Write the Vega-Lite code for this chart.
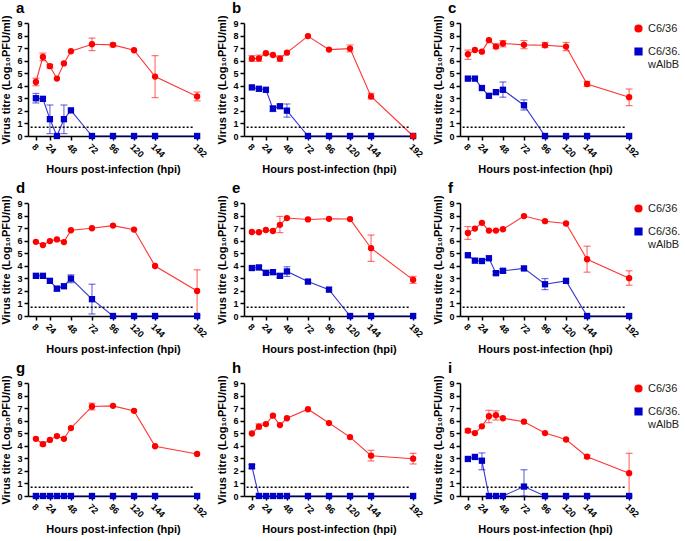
{
"$schema": "https://vega.github.io/schema/vega-lite/v6.json",
"padding": {"left": 0, "top": 0, "right": 0, "bottom": 0},
"config": {
 "font": "Liberation Sans",
 "view": {"stroke": null},
 "axis": {"grid": false, "domainColor": "#000", "domainWidth": 1.5, "tickColor": "#000", "tickWidth": 1.5, "tickSize": 4, "labelColor": "#000", "labelFontSize": 9, "labelFontWeight": "bold", "labelFlush": false, "labelOverlap": false, "labelBound": false, "titleFontSize": 11, "titleFontWeight": "bold", "titleColor": "#000"},
 "axisX": {"titlePadding": 5, "tickCount": 8},
 "axisY": {"titlePadding": 5, "labelPadding": 2, "tickCount": 10},
 "legend": {"labelFontSize": 11, "symbolSize": 45, "rowPadding": 10, "offset": -7, "padding": 0, "labelColor": "#222", "symbolOpacity": 1},
 "title": {"anchor": "start", "frame": "group", "fontSize": 15, "fontWeight": "bold", "color": "#000", "dx": -12, "offset": -1}
},
"data": {"values": [
{"p":"a","r":1,"s":"C6/36.wAlbB","t":8,"v":3.01,"lo":2.63,"hi":3.39},
{"p":"a","r":1,"s":"C6/36.wAlbB","t":16,"v":2.96},
{"p":"a","r":1,"s":"C6/36.wAlbB","t":24,"v":1.34,"lo":0.19,"hi":2.47},
{"p":"a","r":1,"s":"C6/36.wAlbB","t":32,"v":0},
{"p":"a","r":1,"s":"C6/36.wAlbB","t":40,"v":1.34,"lo":0.19,"hi":2.47},
{"p":"a","r":1,"s":"C6/36.wAlbB","t":48,"v":2.04},
{"p":"a","r":1,"s":"C6/36.wAlbB","t":72,"v":0},
{"p":"a","r":1,"s":"C6/36.wAlbB","t":96,"v":0},
{"p":"a","r":1,"s":"C6/36.wAlbB","t":120,"v":0},
{"p":"a","r":1,"s":"C6/36.wAlbB","t":144,"v":0},
{"p":"a","r":1,"s":"C6/36.wAlbB","t":192,"v":0},
{"p":"a","r":1,"s":"C6/36","t":8,"v":4.3,"lo":4.0,"hi":4.6},
{"p":"a","r":1,"s":"C6/36","t":16,"v":6.29,"lo":6.0,"hi":6.6},
{"p":"a","r":1,"s":"C6/36","t":24,"v":5.56,"lo":5.4,"hi":5.7},
{"p":"a","r":1,"s":"C6/36","t":32,"v":4.57},
{"p":"a","r":1,"s":"C6/36","t":40,"v":5.78},
{"p":"a","r":1,"s":"C6/36","t":48,"v":6.75},
{"p":"a","r":1,"s":"C6/36","t":72,"v":7.31,"lo":6.8,"hi":7.8},
{"p":"a","r":1,"s":"C6/36","t":96,"v":7.26,"lo":7.1,"hi":7.4},
{"p":"a","r":1,"s":"C6/36","t":120,"v":6.83},
{"p":"a","r":1,"s":"C6/36","t":144,"v":4.73,"lo":3.06,"hi":6.4},
{"p":"a","r":1,"s":"C6/36","t":192,"v":3.15,"lo":2.8,"hi":3.5},
{"p":"b","r":1,"s":"C6/36.wAlbB","t":8,"v":3.87},
{"p":"b","r":1,"s":"C6/36.wAlbB","t":16,"v":3.76},
{"p":"b","r":1,"s":"C6/36.wAlbB","t":24,"v":3.68},
{"p":"b","r":1,"s":"C6/36.wAlbB","t":32,"v":2.18,"lo":1.95,"hi":2.4},
{"p":"b","r":1,"s":"C6/36.wAlbB","t":40,"v":2.37},
{"p":"b","r":1,"s":"C6/36.wAlbB","t":48,"v":2.02,"lo":1.5,"hi":2.55},
{"p":"b","r":1,"s":"C6/36.wAlbB","t":72,"v":0},
{"p":"b","r":1,"s":"C6/36.wAlbB","t":96,"v":0},
{"p":"b","r":1,"s":"C6/36.wAlbB","t":120,"v":0},
{"p":"b","r":1,"s":"C6/36.wAlbB","t":144,"v":0},
{"p":"b","r":1,"s":"C6/36.wAlbB","t":192,"v":0},
{"p":"b","r":1,"s":"C6/36","t":8,"v":6.16,"lo":5.95,"hi":6.4},
{"p":"b","r":1,"s":"C6/36","t":16,"v":6.18,"lo":5.95,"hi":6.45},
{"p":"b","r":1,"s":"C6/36","t":24,"v":6.59},
{"p":"b","r":1,"s":"C6/36","t":32,"v":6.45},
{"p":"b","r":1,"s":"C6/36","t":40,"v":6.16,"lo":5.95,"hi":6.4},
{"p":"b","r":1,"s":"C6/36","t":48,"v":6.64},
{"p":"b","r":1,"s":"C6/36","t":72,"v":7.96},
{"p":"b","r":1,"s":"C6/36","t":96,"v":6.88},
{"p":"b","r":1,"s":"C6/36","t":120,"v":6.96,"lo":6.7,"hi":7.25},
{"p":"b","r":1,"s":"C6/36","t":144,"v":3.15,"lo":2.95,"hi":3.4},
{"p":"b","r":1,"s":"C6/36","t":192,"v":0},
{"p":"c","r":1,"s":"C6/36.wAlbB","t":8,"v":4.57},
{"p":"c","r":1,"s":"C6/36.wAlbB","t":16,"v":4.57},
{"p":"c","r":1,"s":"C6/36.wAlbB","t":24,"v":3.82},
{"p":"c","r":1,"s":"C6/36.wAlbB","t":32,"v":3.2},
{"p":"c","r":1,"s":"C6/36.wAlbB","t":40,"v":3.49},
{"p":"c","r":1,"s":"C6/36.wAlbB","t":48,"v":3.68,"lo":3.09,"hi":4.3},
{"p":"c","r":1,"s":"C6/36.wAlbB","t":72,"v":2.45,"lo":2.07,"hi":2.88},
{"p":"c","r":1,"s":"C6/36.wAlbB","t":96,"v":0},
{"p":"c","r":1,"s":"C6/36.wAlbB","t":120,"v":0},
{"p":"c","r":1,"s":"C6/36.wAlbB","t":144,"v":0},
{"p":"c","r":1,"s":"C6/36.wAlbB","t":192,"v":0},
{"p":"c","r":1,"s":"C6/36","t":8,"v":6.51,"lo":6.1,"hi":6.85},
{"p":"c","r":1,"s":"C6/36","t":16,"v":6.85},
{"p":"c","r":1,"s":"C6/36","t":24,"v":6.72},
{"p":"c","r":1,"s":"C6/36","t":32,"v":7.63},
{"p":"c","r":1,"s":"C6/36","t":40,"v":7.12,"lo":6.95,"hi":7.35},
{"p":"c","r":1,"s":"C6/36","t":48,"v":7.37,"lo":7.1,"hi":7.6},
{"p":"c","r":1,"s":"C6/36","t":72,"v":7.26,"lo":6.95,"hi":7.6},
{"p":"c","r":1,"s":"C6/36","t":96,"v":7.23,"lo":7.05,"hi":7.45},
{"p":"c","r":1,"s":"C6/36","t":120,"v":7.12,"lo":6.8,"hi":7.45},
{"p":"c","r":1,"s":"C6/36","t":144,"v":4.14,"lo":3.95,"hi":4.35},
{"p":"c","r":1,"s":"C6/36","t":192,"v":3.09,"lo":2.42,"hi":3.74},
{"p":"d","r":2,"s":"C6/36.wAlbB","t":8,"v":3.2},
{"p":"d","r":2,"s":"C6/36.wAlbB","t":16,"v":3.2},
{"p":"d","r":2,"s":"C6/36.wAlbB","t":24,"v":2.8},
{"p":"d","r":2,"s":"C6/36.wAlbB","t":32,"v":2.18,"lo":2.0,"hi":2.35},
{"p":"d","r":2,"s":"C6/36.wAlbB","t":40,"v":2.37},
{"p":"d","r":2,"s":"C6/36.wAlbB","t":48,"v":2.98,"lo":2.65,"hi":3.28},
{"p":"d","r":2,"s":"C6/36.wAlbB","t":72,"v":1.34,"lo":0.16,"hi":2.53},
{"p":"d","r":2,"s":"C6/36.wAlbB","t":96,"v":0},
{"p":"d","r":2,"s":"C6/36.wAlbB","t":120,"v":0},
{"p":"d","r":2,"s":"C6/36.wAlbB","t":144,"v":0},
{"p":"d","r":2,"s":"C6/36.wAlbB","t":192,"v":0},
{"p":"d","r":2,"s":"C6/36","t":8,"v":5.91},
{"p":"d","r":2,"s":"C6/36","t":16,"v":5.65},
{"p":"d","r":2,"s":"C6/36","t":24,"v":5.97},
{"p":"d","r":2,"s":"C6/36","t":32,"v":6.1},
{"p":"d","r":2,"s":"C6/36","t":40,"v":5.89},
{"p":"d","r":2,"s":"C6/36","t":48,"v":6.83},
{"p":"d","r":2,"s":"C6/36","t":72,"v":6.99},
{"p":"d","r":2,"s":"C6/36","t":96,"v":7.2},
{"p":"d","r":2,"s":"C6/36","t":120,"v":6.88},
{"p":"d","r":2,"s":"C6/36","t":144,"v":3.98},
{"p":"d","r":2,"s":"C6/36","t":192,"v":1.99,"lo":0.05,"hi":3.68},
{"p":"e","r":2,"s":"C6/36.wAlbB","t":8,"v":3.82},
{"p":"e","r":2,"s":"C6/36.wAlbB","t":16,"v":3.87,"lo":3.7,"hi":4.0},
{"p":"e","r":2,"s":"C6/36.wAlbB","t":24,"v":3.44,"lo":3.3,"hi":3.6},
{"p":"e","r":2,"s":"C6/36.wAlbB","t":32,"v":3.49},
{"p":"e","r":2,"s":"C6/36.wAlbB","t":40,"v":3.2,"lo":3.05,"hi":3.35},
{"p":"e","r":2,"s":"C6/36.wAlbB","t":48,"v":3.55,"lo":3.15,"hi":3.92},
{"p":"e","r":2,"s":"C6/36.wAlbB","t":72,"v":2.74},
{"p":"e","r":2,"s":"C6/36.wAlbB","t":96,"v":2.1},
{"p":"e","r":2,"s":"C6/36.wAlbB","t":120,"v":0},
{"p":"e","r":2,"s":"C6/36.wAlbB","t":144,"v":0},
{"p":"e","r":2,"s":"C6/36.wAlbB","t":192,"v":0},
{"p":"e","r":2,"s":"C6/36","t":8,"v":6.69},
{"p":"e","r":2,"s":"C6/36","t":16,"v":6.67},
{"p":"e","r":2,"s":"C6/36","t":24,"v":6.85},
{"p":"e","r":2,"s":"C6/36","t":32,"v":6.77},
{"p":"e","r":2,"s":"C6/36","t":40,"v":7.26,"lo":6.64,"hi":7.93},
{"p":"e","r":2,"s":"C6/36","t":48,"v":7.8},
{"p":"e","r":2,"s":"C6/36","t":72,"v":7.69},
{"p":"e","r":2,"s":"C6/36","t":96,"v":7.74},
{"p":"e","r":2,"s":"C6/36","t":120,"v":7.72},
{"p":"e","r":2,"s":"C6/36","t":144,"v":5.4,"lo":4.35,"hi":6.45},
{"p":"e","r":2,"s":"C6/36","t":192,"v":2.88,"lo":2.6,"hi":3.15},
{"p":"f","r":2,"s":"C6/36.wAlbB","t":8,"v":4.84},
{"p":"f","r":2,"s":"C6/36.wAlbB","t":16,"v":4.41},
{"p":"f","r":2,"s":"C6/36.wAlbB","t":24,"v":4.38},
{"p":"f","r":2,"s":"C6/36.wAlbB","t":32,"v":4.6},
{"p":"f","r":2,"s":"C6/36.wAlbB","t":40,"v":3.41,"lo":3.3,"hi":3.55},
{"p":"f","r":2,"s":"C6/36.wAlbB","t":48,"v":3.6,"lo":3.45,"hi":3.75},
{"p":"f","r":2,"s":"C6/36.wAlbB","t":72,"v":3.79},
{"p":"f","r":2,"s":"C6/36.wAlbB","t":96,"v":2.53,"lo":2.1,"hi":2.98},
{"p":"f","r":2,"s":"C6/36.wAlbB","t":120,"v":2.8},
{"p":"f","r":2,"s":"C6/36.wAlbB","t":144,"v":0},
{"p":"f","r":2,"s":"C6/36.wAlbB","t":192,"v":0},
{"p":"f","r":2,"s":"C6/36","t":8,"v":6.61,"lo":6.1,"hi":7.12},
{"p":"f","r":2,"s":"C6/36","t":16,"v":6.96},
{"p":"f","r":2,"s":"C6/36","t":24,"v":7.42},
{"p":"f","r":2,"s":"C6/36","t":32,"v":6.8},
{"p":"f","r":2,"s":"C6/36","t":40,"v":6.8},
{"p":"f","r":2,"s":"C6/36","t":48,"v":6.91},
{"p":"f","r":2,"s":"C6/36","t":72,"v":7.96},
{"p":"f","r":2,"s":"C6/36","t":96,"v":7.55},
{"p":"f","r":2,"s":"C6/36","t":120,"v":7.37},
{"p":"f","r":2,"s":"C6/36","t":144,"v":4.52,"lo":3.49,"hi":5.56},
{"p":"f","r":2,"s":"C6/36","t":192,"v":3.01,"lo":2.45,"hi":3.6},
{"p":"g","r":3,"s":"C6/36.wAlbB","t":8,"v":0},
{"p":"g","r":3,"s":"C6/36.wAlbB","t":16,"v":0},
{"p":"g","r":3,"s":"C6/36.wAlbB","t":24,"v":0},
{"p":"g","r":3,"s":"C6/36.wAlbB","t":32,"v":0},
{"p":"g","r":3,"s":"C6/36.wAlbB","t":40,"v":0},
{"p":"g","r":3,"s":"C6/36.wAlbB","t":48,"v":0},
{"p":"g","r":3,"s":"C6/36.wAlbB","t":72,"v":0},
{"p":"g","r":3,"s":"C6/36.wAlbB","t":96,"v":0},
{"p":"g","r":3,"s":"C6/36.wAlbB","t":120,"v":0},
{"p":"g","r":3,"s":"C6/36.wAlbB","t":144,"v":0},
{"p":"g","r":3,"s":"C6/36.wAlbB","t":192,"v":0},
{"p":"g","r":3,"s":"C6/36","t":8,"v":4.55},
{"p":"g","r":3,"s":"C6/36","t":16,"v":4.13,"lo":4.0,"hi":4.3},
{"p":"g","r":3,"s":"C6/36","t":24,"v":4.47},
{"p":"g","r":3,"s":"C6/36","t":32,"v":4.77},
{"p":"g","r":3,"s":"C6/36","t":40,"v":4.55},
{"p":"g","r":3,"s":"C6/36","t":48,"v":5.41},
{"p":"g","r":3,"s":"C6/36","t":72,"v":7.13,"lo":6.86,"hi":7.39},
{"p":"g","r":3,"s":"C6/36","t":96,"v":7.18},
{"p":"g","r":3,"s":"C6/36","t":120,"v":6.78},
{"p":"g","r":3,"s":"C6/36","t":144,"v":3.96},
{"p":"g","r":3,"s":"C6/36","t":192,"v":3.35},
{"p":"h","r":3,"s":"C6/36.wAlbB","t":8,"v":2.36,"lo":2.2,"hi":2.5},
{"p":"h","r":3,"s":"C6/36.wAlbB","t":16,"v":0},
{"p":"h","r":3,"s":"C6/36.wAlbB","t":24,"v":0},
{"p":"h","r":3,"s":"C6/36.wAlbB","t":32,"v":0},
{"p":"h","r":3,"s":"C6/36.wAlbB","t":40,"v":0},
{"p":"h","r":3,"s":"C6/36.wAlbB","t":48,"v":0},
{"p":"h","r":3,"s":"C6/36.wAlbB","t":72,"v":0},
{"p":"h","r":3,"s":"C6/36.wAlbB","t":96,"v":0},
{"p":"h","r":3,"s":"C6/36.wAlbB","t":120,"v":0},
{"p":"h","r":3,"s":"C6/36.wAlbB","t":144,"v":0},
{"p":"h","r":3,"s":"C6/36.wAlbB","t":192,"v":0},
{"p":"h","r":3,"s":"C6/36","t":8,"v":4.98},
{"p":"h","r":3,"s":"C6/36","t":16,"v":5.52,"lo":5.35,"hi":5.75},
{"p":"h","r":3,"s":"C6/36","t":24,"v":5.73},
{"p":"h","r":3,"s":"C6/36","t":32,"v":6.4},
{"p":"h","r":3,"s":"C6/36","t":40,"v":5.65},
{"p":"h","r":3,"s":"C6/36","t":48,"v":6.19},
{"p":"h","r":3,"s":"C6/36","t":72,"v":6.91},
{"p":"h","r":3,"s":"C6/36","t":96,"v":5.81},
{"p":"h","r":3,"s":"C6/36","t":120,"v":4.69},
{"p":"h","r":3,"s":"C6/36","t":144,"v":3.21,"lo":2.79,"hi":3.64},
{"p":"h","r":3,"s":"C6/36","t":192,"v":2.97,"lo":2.55,"hi":3.4},
{"p":"i","r":3,"s":"C6/36.wAlbB","t":8,"v":2.95},
{"p":"i","r":3,"s":"C6/36.wAlbB","t":16,"v":3.11},
{"p":"i","r":3,"s":"C6/36.wAlbB","t":24,"v":2.81,"lo":2.09,"hi":3.43},
{"p":"i","r":3,"s":"C6/36.wAlbB","t":32,"v":0},
{"p":"i","r":3,"s":"C6/36.wAlbB","t":40,"v":0},
{"p":"i","r":3,"s":"C6/36.wAlbB","t":48,"v":0},
{"p":"i","r":3,"s":"C6/36.wAlbB","t":72,"v":0.75,"lo":0,"hi":2.09},
{"p":"i","r":3,"s":"C6/36.wAlbB","t":96,"v":0},
{"p":"i","r":3,"s":"C6/36.wAlbB","t":120,"v":0},
{"p":"i","r":3,"s":"C6/36.wAlbB","t":144,"v":0},
{"p":"i","r":3,"s":"C6/36.wAlbB","t":192,"v":0},
{"p":"i","r":3,"s":"C6/36","t":8,"v":5.2,"lo":5.05,"hi":5.35},
{"p":"i","r":3,"s":"C6/36","t":16,"v":5.01},
{"p":"i","r":3,"s":"C6/36","t":24,"v":5.55},
{"p":"i","r":3,"s":"C6/36","t":32,"v":6.35,"lo":5.84,"hi":6.83},
{"p":"i","r":3,"s":"C6/36","t":40,"v":6.43,"lo":6.05,"hi":6.78},
{"p":"i","r":3,"s":"C6/36","t":48,"v":6.19},
{"p":"i","r":3,"s":"C6/36","t":72,"v":5.92},
{"p":"i","r":3,"s":"C6/36","t":96,"v":5.01},
{"p":"i","r":3,"s":"C6/36","t":120,"v":4.5},
{"p":"i","r":3,"s":"C6/36","t":144,"v":3.13,"lo":3.0,"hi":3.25},
{"p":"i","r":3,"s":"C6/36","t":192,"v":1.82,"lo":0,"hi":3.4}
]},
"spacing": 5,
"resolve": {"legend": {"color": "independent", "shape": "independent"}},
"vconcat": [
 {"spacing": 8, "hconcat": [
  {"title": "a", "transform": [{"filter": "datum.p == 'a'"}], "width": 170, "height": 113, "layer": [
   {"mark": {"type": "line", "strokeWidth": 1.1, "opacity": 0.8}, "encoding": {"x": {"field": "t", "type": "quantitative", "title": "Hours post-infection (hpi)", "scale": {"domain": [-1, 193], "nice": false}, "axis": {"values": [8, 24, 48, 72, 96, 120, 144, 192], "labelAngle": 45, "tickCount": 8}}, "y": {"field": "v", "type": "quantitative", "title": "Virus titre (Log₁₀PFU/ml)", "scale": {"domain": [0, 9], "nice": false}, "axis": {"values": [0,1,2,3,4,5,6,7,8,9], "tickCount": 10}}, "color": {"field": "s", "type": "nominal", "title": null, "scale": {"domain": ["C6/36", "C6/36.wAlbB"], "range": ["#ff0000", "#0000c8"]}}}},
   {"transform": [{"filter": "datum.t == 8 && datum.s == 'C6/36'"}], "mark": {"type": "rule", "color": "#000", "strokeWidth": 1.5, "strokeDash": [2, 2]}, "encoding": {"x": {"datum": 2, "type": "quantitative"}, "x2": {"datum": 188}, "y": {"datum": 0.7, "type": "quantitative"}}},
   {"transform": [{"filter": "isValid(datum.lo)"}], "mark": {"type": "rule", "strokeWidth": 1.2, "opacity": 0.55}, "encoding": {"x": {"field": "t", "type": "quantitative"}, "y": {"field": "lo", "type": "quantitative"}, "y2": {"field": "hi"}, "color": {"field": "s", "type": "nominal", "title": null}}},
   {"transform": [{"filter": "isValid(datum.lo)"}], "mark": {"type": "tick", "orient": "horizontal", "size": 7, "thickness": 1.2, "opacity": 0.55}, "encoding": {"x": {"field": "t", "type": "quantitative"}, "y": {"field": "lo", "type": "quantitative"}, "color": {"field": "s", "type": "nominal", "title": null}}},
   {"transform": [{"filter": "isValid(datum.lo)"}], "mark": {"type": "tick", "orient": "horizontal", "size": 7, "thickness": 1.2, "opacity": 0.55}, "encoding": {"x": {"field": "t", "type": "quantitative"}, "y": {"field": "hi", "type": "quantitative"}, "color": {"field": "s", "type": "nominal", "title": null}}},
   {"mark": {"type": "point", "filled": true, "size": 40, "opacity": 1}, "encoding": {"x": {"field": "t", "type": "quantitative"}, "y": {"field": "v", "type": "quantitative"}, "color": {"field": "s", "type": "nominal", "title": null, "legend": {"labelExpr": "datum.label == 'C6/36' ? 'C6/36' : ['C6/36.', 'wAlbB']"}}, "shape": {"field": "s", "type": "nominal", "title": null, "scale": {"domain": ["C6/36", "C6/36.wAlbB"], "range": ["circle", "square"]}, "legend": {"labelExpr": "datum.label == 'C6/36' ? 'C6/36' : ['C6/36.', 'wAlbB']"}}}}
  ]},
  {"title": "b", "transform": [{"filter": "datum.p == 'b'"}], "width": 170, "height": 113, "layer": [
   {"mark": {"type": "line", "strokeWidth": 1.1, "opacity": 0.8}, "encoding": {"x": {"field": "t", "type": "quantitative", "title": "Hours post-infection (hpi)", "scale": {"domain": [-1, 193], "nice": false}, "axis": {"values": [8, 24, 48, 72, 96, 120, 144, 192], "labelAngle": 45, "tickCount": 8}}, "y": {"field": "v", "type": "quantitative", "title": "Virus titre (Log₁₀PFU/ml)", "scale": {"domain": [0, 9], "nice": false}, "axis": {"values": [0,1,2,3,4,5,6,7,8,9], "tickCount": 10}}, "color": {"field": "s", "type": "nominal", "title": null, "scale": {"domain": ["C6/36", "C6/36.wAlbB"], "range": ["#ff0000", "#0000c8"]}}}},
   {"transform": [{"filter": "datum.t == 8 && datum.s == 'C6/36'"}], "mark": {"type": "rule", "color": "#000", "strokeWidth": 1.5, "strokeDash": [2, 2]}, "encoding": {"x": {"datum": 2, "type": "quantitative"}, "x2": {"datum": 188}, "y": {"datum": 0.7, "type": "quantitative"}}},
   {"transform": [{"filter": "isValid(datum.lo)"}], "mark": {"type": "rule", "strokeWidth": 1.2, "opacity": 0.55}, "encoding": {"x": {"field": "t", "type": "quantitative"}, "y": {"field": "lo", "type": "quantitative"}, "y2": {"field": "hi"}, "color": {"field": "s", "type": "nominal", "title": null}}},
   {"transform": [{"filter": "isValid(datum.lo)"}], "mark": {"type": "tick", "orient": "horizontal", "size": 7, "thickness": 1.2, "opacity": 0.55}, "encoding": {"x": {"field": "t", "type": "quantitative"}, "y": {"field": "lo", "type": "quantitative"}, "color": {"field": "s", "type": "nominal", "title": null}}},
   {"transform": [{"filter": "isValid(datum.lo)"}], "mark": {"type": "tick", "orient": "horizontal", "size": 7, "thickness": 1.2, "opacity": 0.55}, "encoding": {"x": {"field": "t", "type": "quantitative"}, "y": {"field": "hi", "type": "quantitative"}, "color": {"field": "s", "type": "nominal", "title": null}}},
   {"mark": {"type": "point", "filled": true, "size": 40, "opacity": 1}, "encoding": {"x": {"field": "t", "type": "quantitative"}, "y": {"field": "v", "type": "quantitative"}, "color": {"field": "s", "type": "nominal", "title": null, "legend": {"labelExpr": "datum.label == 'C6/36' ? 'C6/36' : ['C6/36.', 'wAlbB']"}}, "shape": {"field": "s", "type": "nominal", "title": null, "scale": {"domain": ["C6/36", "C6/36.wAlbB"], "range": ["circle", "square"]}, "legend": {"labelExpr": "datum.label == 'C6/36' ? 'C6/36' : ['C6/36.', 'wAlbB']"}}}}
  ]},
  {"title": "c", "transform": [{"filter": "datum.p == 'c'"}], "width": 170, "height": 113, "layer": [
   {"mark": {"type": "line", "strokeWidth": 1.1, "opacity": 0.8}, "encoding": {"x": {"field": "t", "type": "quantitative", "title": "Hours post-infection (hpi)", "scale": {"domain": [-1, 193], "nice": false}, "axis": {"values": [8, 24, 48, 72, 96, 120, 144, 192], "labelAngle": 45, "tickCount": 8}}, "y": {"field": "v", "type": "quantitative", "title": "Virus titre (Log₁₀PFU/ml)", "scale": {"domain": [0, 9], "nice": false}, "axis": {"values": [0,1,2,3,4,5,6,7,8,9], "tickCount": 10}}, "color": {"field": "s", "type": "nominal", "title": null, "scale": {"domain": ["C6/36", "C6/36.wAlbB"], "range": ["#ff0000", "#0000c8"]}}}},
   {"transform": [{"filter": "datum.t == 8 && datum.s == 'C6/36'"}], "mark": {"type": "rule", "color": "#000", "strokeWidth": 1.5, "strokeDash": [2, 2]}, "encoding": {"x": {"datum": 2, "type": "quantitative"}, "x2": {"datum": 188}, "y": {"datum": 0.7, "type": "quantitative"}}},
   {"transform": [{"filter": "isValid(datum.lo)"}], "mark": {"type": "rule", "strokeWidth": 1.2, "opacity": 0.55}, "encoding": {"x": {"field": "t", "type": "quantitative"}, "y": {"field": "lo", "type": "quantitative"}, "y2": {"field": "hi"}, "color": {"field": "s", "type": "nominal", "title": null}}},
   {"transform": [{"filter": "isValid(datum.lo)"}], "mark": {"type": "tick", "orient": "horizontal", "size": 7, "thickness": 1.2, "opacity": 0.55}, "encoding": {"x": {"field": "t", "type": "quantitative"}, "y": {"field": "lo", "type": "quantitative"}, "color": {"field": "s", "type": "nominal", "title": null}}},
   {"transform": [{"filter": "isValid(datum.lo)"}], "mark": {"type": "tick", "orient": "horizontal", "size": 7, "thickness": 1.2, "opacity": 0.55}, "encoding": {"x": {"field": "t", "type": "quantitative"}, "y": {"field": "hi", "type": "quantitative"}, "color": {"field": "s", "type": "nominal", "title": null}}},
   {"mark": {"type": "point", "filled": true, "size": 40, "opacity": 1}, "encoding": {"x": {"field": "t", "type": "quantitative"}, "y": {"field": "v", "type": "quantitative"}, "color": {"field": "s", "type": "nominal", "title": null, "legend": {"labelExpr": "datum.label == 'C6/36' ? 'C6/36' : ['C6/36.', 'wAlbB']"}}, "shape": {"field": "s", "type": "nominal", "title": null, "scale": {"domain": ["C6/36", "C6/36.wAlbB"], "range": ["circle", "square"]}, "legend": {"labelExpr": "datum.label == 'C6/36' ? 'C6/36' : ['C6/36.', 'wAlbB']"}}}}
  ]}
 ]},
 {"spacing": 8, "hconcat": [
  {"title": "d", "transform": [{"filter": "datum.p == 'd'"}], "width": 170, "height": 113, "layer": [
   {"mark": {"type": "line", "strokeWidth": 1.1, "opacity": 0.8}, "encoding": {"x": {"field": "t", "type": "quantitative", "title": "Hours post-infection (hpi)", "scale": {"domain": [-1, 193], "nice": false}, "axis": {"values": [8, 24, 48, 72, 96, 120, 144, 192], "labelAngle": 45, "tickCount": 8}}, "y": {"field": "v", "type": "quantitative", "title": "Virus titre (Log₁₀PFU/ml)", "scale": {"domain": [0, 9], "nice": false}, "axis": {"values": [0,1,2,3,4,5,6,7,8,9], "tickCount": 10}}, "color": {"field": "s", "type": "nominal", "title": null, "scale": {"domain": ["C6/36", "C6/36.wAlbB"], "range": ["#ff0000", "#0000c8"]}}}},
   {"transform": [{"filter": "datum.t == 8 && datum.s == 'C6/36'"}], "mark": {"type": "rule", "color": "#000", "strokeWidth": 1.5, "strokeDash": [2, 2]}, "encoding": {"x": {"datum": 2, "type": "quantitative"}, "x2": {"datum": 188}, "y": {"datum": 0.7, "type": "quantitative"}}},
   {"transform": [{"filter": "isValid(datum.lo)"}], "mark": {"type": "rule", "strokeWidth": 1.2, "opacity": 0.55}, "encoding": {"x": {"field": "t", "type": "quantitative"}, "y": {"field": "lo", "type": "quantitative"}, "y2": {"field": "hi"}, "color": {"field": "s", "type": "nominal", "title": null}}},
   {"transform": [{"filter": "isValid(datum.lo)"}], "mark": {"type": "tick", "orient": "horizontal", "size": 7, "thickness": 1.2, "opacity": 0.55}, "encoding": {"x": {"field": "t", "type": "quantitative"}, "y": {"field": "lo", "type": "quantitative"}, "color": {"field": "s", "type": "nominal", "title": null}}},
   {"transform": [{"filter": "isValid(datum.lo)"}], "mark": {"type": "tick", "orient": "horizontal", "size": 7, "thickness": 1.2, "opacity": 0.55}, "encoding": {"x": {"field": "t", "type": "quantitative"}, "y": {"field": "hi", "type": "quantitative"}, "color": {"field": "s", "type": "nominal", "title": null}}},
   {"mark": {"type": "point", "filled": true, "size": 40, "opacity": 1}, "encoding": {"x": {"field": "t", "type": "quantitative"}, "y": {"field": "v", "type": "quantitative"}, "color": {"field": "s", "type": "nominal", "title": null, "legend": {"labelExpr": "datum.label == 'C6/36' ? 'C6/36' : ['C6/36.', 'wAlbB']"}}, "shape": {"field": "s", "type": "nominal", "title": null, "scale": {"domain": ["C6/36", "C6/36.wAlbB"], "range": ["circle", "square"]}, "legend": {"labelExpr": "datum.label == 'C6/36' ? 'C6/36' : ['C6/36.', 'wAlbB']"}}}}
  ]},
  {"title": "e", "transform": [{"filter": "datum.p == 'e'"}], "width": 170, "height": 113, "layer": [
   {"mark": {"type": "line", "strokeWidth": 1.1, "opacity": 0.8}, "encoding": {"x": {"field": "t", "type": "quantitative", "title": "Hours post-infection (hpi)", "scale": {"domain": [-1, 193], "nice": false}, "axis": {"values": [8, 24, 48, 72, 96, 120, 144, 192], "labelAngle": 45, "tickCount": 8}}, "y": {"field": "v", "type": "quantitative", "title": "Virus titre (Log₁₀PFU/ml)", "scale": {"domain": [0, 9], "nice": false}, "axis": {"values": [0,1,2,3,4,5,6,7,8,9], "tickCount": 10}}, "color": {"field": "s", "type": "nominal", "title": null, "scale": {"domain": ["C6/36", "C6/36.wAlbB"], "range": ["#ff0000", "#0000c8"]}}}},
   {"transform": [{"filter": "datum.t == 8 && datum.s == 'C6/36'"}], "mark": {"type": "rule", "color": "#000", "strokeWidth": 1.5, "strokeDash": [2, 2]}, "encoding": {"x": {"datum": 2, "type": "quantitative"}, "x2": {"datum": 188}, "y": {"datum": 0.7, "type": "quantitative"}}},
   {"transform": [{"filter": "isValid(datum.lo)"}], "mark": {"type": "rule", "strokeWidth": 1.2, "opacity": 0.55}, "encoding": {"x": {"field": "t", "type": "quantitative"}, "y": {"field": "lo", "type": "quantitative"}, "y2": {"field": "hi"}, "color": {"field": "s", "type": "nominal", "title": null}}},
   {"transform": [{"filter": "isValid(datum.lo)"}], "mark": {"type": "tick", "orient": "horizontal", "size": 7, "thickness": 1.2, "opacity": 0.55}, "encoding": {"x": {"field": "t", "type": "quantitative"}, "y": {"field": "lo", "type": "quantitative"}, "color": {"field": "s", "type": "nominal", "title": null}}},
   {"transform": [{"filter": "isValid(datum.lo)"}], "mark": {"type": "tick", "orient": "horizontal", "size": 7, "thickness": 1.2, "opacity": 0.55}, "encoding": {"x": {"field": "t", "type": "quantitative"}, "y": {"field": "hi", "type": "quantitative"}, "color": {"field": "s", "type": "nominal", "title": null}}},
   {"mark": {"type": "point", "filled": true, "size": 40, "opacity": 1}, "encoding": {"x": {"field": "t", "type": "quantitative"}, "y": {"field": "v", "type": "quantitative"}, "color": {"field": "s", "type": "nominal", "title": null, "legend": {"labelExpr": "datum.label == 'C6/36' ? 'C6/36' : ['C6/36.', 'wAlbB']"}}, "shape": {"field": "s", "type": "nominal", "title": null, "scale": {"domain": ["C6/36", "C6/36.wAlbB"], "range": ["circle", "square"]}, "legend": {"labelExpr": "datum.label == 'C6/36' ? 'C6/36' : ['C6/36.', 'wAlbB']"}}}}
  ]},
  {"title": "f", "transform": [{"filter": "datum.p == 'f'"}], "width": 170, "height": 113, "layer": [
   {"mark": {"type": "line", "strokeWidth": 1.1, "opacity": 0.8}, "encoding": {"x": {"field": "t", "type": "quantitative", "title": "Hours post-infection (hpi)", "scale": {"domain": [-1, 193], "nice": false}, "axis": {"values": [8, 24, 48, 72, 96, 120, 144, 192], "labelAngle": 45, "tickCount": 8}}, "y": {"field": "v", "type": "quantitative", "title": "Virus titre (Log₁₀PFU/ml)", "scale": {"domain": [0, 9], "nice": false}, "axis": {"values": [0,1,2,3,4,5,6,7,8,9], "tickCount": 10}}, "color": {"field": "s", "type": "nominal", "title": null, "scale": {"domain": ["C6/36", "C6/36.wAlbB"], "range": ["#ff0000", "#0000c8"]}}}},
   {"transform": [{"filter": "datum.t == 8 && datum.s == 'C6/36'"}], "mark": {"type": "rule", "color": "#000", "strokeWidth": 1.5, "strokeDash": [2, 2]}, "encoding": {"x": {"datum": 2, "type": "quantitative"}, "x2": {"datum": 188}, "y": {"datum": 0.7, "type": "quantitative"}}},
   {"transform": [{"filter": "isValid(datum.lo)"}], "mark": {"type": "rule", "strokeWidth": 1.2, "opacity": 0.55}, "encoding": {"x": {"field": "t", "type": "quantitative"}, "y": {"field": "lo", "type": "quantitative"}, "y2": {"field": "hi"}, "color": {"field": "s", "type": "nominal", "title": null}}},
   {"transform": [{"filter": "isValid(datum.lo)"}], "mark": {"type": "tick", "orient": "horizontal", "size": 7, "thickness": 1.2, "opacity": 0.55}, "encoding": {"x": {"field": "t", "type": "quantitative"}, "y": {"field": "lo", "type": "quantitative"}, "color": {"field": "s", "type": "nominal", "title": null}}},
   {"transform": [{"filter": "isValid(datum.lo)"}], "mark": {"type": "tick", "orient": "horizontal", "size": 7, "thickness": 1.2, "opacity": 0.55}, "encoding": {"x": {"field": "t", "type": "quantitative"}, "y": {"field": "hi", "type": "quantitative"}, "color": {"field": "s", "type": "nominal", "title": null}}},
   {"mark": {"type": "point", "filled": true, "size": 40, "opacity": 1}, "encoding": {"x": {"field": "t", "type": "quantitative"}, "y": {"field": "v", "type": "quantitative"}, "color": {"field": "s", "type": "nominal", "title": null, "legend": {"labelExpr": "datum.label == 'C6/36' ? 'C6/36' : ['C6/36.', 'wAlbB']"}}, "shape": {"field": "s", "type": "nominal", "title": null, "scale": {"domain": ["C6/36", "C6/36.wAlbB"], "range": ["circle", "square"]}, "legend": {"labelExpr": "datum.label == 'C6/36' ? 'C6/36' : ['C6/36.', 'wAlbB']"}}}}
  ]}
 ]},
 {"spacing": 8, "hconcat": [
  {"title": "g", "transform": [{"filter": "datum.p == 'g'"}], "width": 170, "height": 113, "layer": [
   {"mark": {"type": "line", "strokeWidth": 1.1, "opacity": 0.8}, "encoding": {"x": {"field": "t", "type": "quantitative", "title": "Hours post-infection (hpi)", "scale": {"domain": [-1, 193], "nice": false}, "axis": {"values": [8, 24, 48, 72, 96, 120, 144, 192], "labelAngle": 45, "tickCount": 8}}, "y": {"field": "v", "type": "quantitative", "title": "Virus titre (Log₁₀PFU/ml)", "scale": {"domain": [0, 9], "nice": false}, "axis": {"values": [0,1,2,3,4,5,6,7,8,9], "tickCount": 10}}, "color": {"field": "s", "type": "nominal", "title": null, "scale": {"domain": ["C6/36", "C6/36.wAlbB"], "range": ["#ff0000", "#0000c8"]}}}},
   {"transform": [{"filter": "datum.t == 8 && datum.s == 'C6/36'"}], "mark": {"type": "rule", "color": "#000", "strokeWidth": 1.5, "strokeDash": [2, 2]}, "encoding": {"x": {"datum": 2, "type": "quantitative"}, "x2": {"datum": 188}, "y": {"datum": 0.7, "type": "quantitative"}}},
   {"transform": [{"filter": "isValid(datum.lo)"}], "mark": {"type": "rule", "strokeWidth": 1.2, "opacity": 0.55}, "encoding": {"x": {"field": "t", "type": "quantitative"}, "y": {"field": "lo", "type": "quantitative"}, "y2": {"field": "hi"}, "color": {"field": "s", "type": "nominal", "title": null}}},
   {"transform": [{"filter": "isValid(datum.lo)"}], "mark": {"type": "tick", "orient": "horizontal", "size": 7, "thickness": 1.2, "opacity": 0.55}, "encoding": {"x": {"field": "t", "type": "quantitative"}, "y": {"field": "lo", "type": "quantitative"}, "color": {"field": "s", "type": "nominal", "title": null}}},
   {"transform": [{"filter": "isValid(datum.lo)"}], "mark": {"type": "tick", "orient": "horizontal", "size": 7, "thickness": 1.2, "opacity": 0.55}, "encoding": {"x": {"field": "t", "type": "quantitative"}, "y": {"field": "hi", "type": "quantitative"}, "color": {"field": "s", "type": "nominal", "title": null}}},
   {"mark": {"type": "point", "filled": true, "size": 40, "opacity": 1}, "encoding": {"x": {"field": "t", "type": "quantitative"}, "y": {"field": "v", "type": "quantitative"}, "color": {"field": "s", "type": "nominal", "title": null, "legend": {"labelExpr": "datum.label == 'C6/36' ? 'C6/36' : ['C6/36.', 'wAlbB']"}}, "shape": {"field": "s", "type": "nominal", "title": null, "scale": {"domain": ["C6/36", "C6/36.wAlbB"], "range": ["circle", "square"]}, "legend": {"labelExpr": "datum.label == 'C6/36' ? 'C6/36' : ['C6/36.', 'wAlbB']"}}}}
  ]},
  {"title": "h", "transform": [{"filter": "datum.p == 'h'"}], "width": 170, "height": 113, "layer": [
   {"mark": {"type": "line", "strokeWidth": 1.1, "opacity": 0.8}, "encoding": {"x": {"field": "t", "type": "quantitative", "title": "Hours post-infection (hpi)", "scale": {"domain": [-1, 193], "nice": false}, "axis": {"values": [8, 24, 48, 72, 96, 120, 144, 192], "labelAngle": 45, "tickCount": 8}}, "y": {"field": "v", "type": "quantitative", "title": "Virus titre (Log₁₀PFU/ml)", "scale": {"domain": [0, 9], "nice": false}, "axis": {"values": [0,1,2,3,4,5,6,7,8,9], "tickCount": 10}}, "color": {"field": "s", "type": "nominal", "title": null, "scale": {"domain": ["C6/36", "C6/36.wAlbB"], "range": ["#ff0000", "#0000c8"]}}}},
   {"transform": [{"filter": "datum.t == 8 && datum.s == 'C6/36'"}], "mark": {"type": "rule", "color": "#000", "strokeWidth": 1.5, "strokeDash": [2, 2]}, "encoding": {"x": {"datum": 2, "type": "quantitative"}, "x2": {"datum": 188}, "y": {"datum": 0.7, "type": "quantitative"}}},
   {"transform": [{"filter": "isValid(datum.lo)"}], "mark": {"type": "rule", "strokeWidth": 1.2, "opacity": 0.55}, "encoding": {"x": {"field": "t", "type": "quantitative"}, "y": {"field": "lo", "type": "quantitative"}, "y2": {"field": "hi"}, "color": {"field": "s", "type": "nominal", "title": null}}},
   {"transform": [{"filter": "isValid(datum.lo)"}], "mark": {"type": "tick", "orient": "horizontal", "size": 7, "thickness": 1.2, "opacity": 0.55}, "encoding": {"x": {"field": "t", "type": "quantitative"}, "y": {"field": "lo", "type": "quantitative"}, "color": {"field": "s", "type": "nominal", "title": null}}},
   {"transform": [{"filter": "isValid(datum.lo)"}], "mark": {"type": "tick", "orient": "horizontal", "size": 7, "thickness": 1.2, "opacity": 0.55}, "encoding": {"x": {"field": "t", "type": "quantitative"}, "y": {"field": "hi", "type": "quantitative"}, "color": {"field": "s", "type": "nominal", "title": null}}},
   {"mark": {"type": "point", "filled": true, "size": 40, "opacity": 1}, "encoding": {"x": {"field": "t", "type": "quantitative"}, "y": {"field": "v", "type": "quantitative"}, "color": {"field": "s", "type": "nominal", "title": null, "legend": {"labelExpr": "datum.label == 'C6/36' ? 'C6/36' : ['C6/36.', 'wAlbB']"}}, "shape": {"field": "s", "type": "nominal", "title": null, "scale": {"domain": ["C6/36", "C6/36.wAlbB"], "range": ["circle", "square"]}, "legend": {"labelExpr": "datum.label == 'C6/36' ? 'C6/36' : ['C6/36.', 'wAlbB']"}}}}
  ]},
  {"title": "i", "transform": [{"filter": "datum.p == 'i'"}], "width": 170, "height": 113, "layer": [
   {"mark": {"type": "line", "strokeWidth": 1.1, "opacity": 0.8}, "encoding": {"x": {"field": "t", "type": "quantitative", "title": "Hours post-infection (hpi)", "scale": {"domain": [-1, 193], "nice": false}, "axis": {"values": [8, 24, 48, 72, 96, 120, 144, 192], "labelAngle": 45, "tickCount": 8}}, "y": {"field": "v", "type": "quantitative", "title": "Virus titre (Log₁₀PFU/ml)", "scale": {"domain": [0, 9], "nice": false}, "axis": {"values": [0,1,2,3,4,5,6,7,8,9], "tickCount": 10}}, "color": {"field": "s", "type": "nominal", "title": null, "scale": {"domain": ["C6/36", "C6/36.wAlbB"], "range": ["#ff0000", "#0000c8"]}}}},
   {"transform": [{"filter": "datum.t == 8 && datum.s == 'C6/36'"}], "mark": {"type": "rule", "color": "#000", "strokeWidth": 1.5, "strokeDash": [2, 2]}, "encoding": {"x": {"datum": 2, "type": "quantitative"}, "x2": {"datum": 188}, "y": {"datum": 0.7, "type": "quantitative"}}},
   {"transform": [{"filter": "isValid(datum.lo)"}], "mark": {"type": "rule", "strokeWidth": 1.2, "opacity": 0.55}, "encoding": {"x": {"field": "t", "type": "quantitative"}, "y": {"field": "lo", "type": "quantitative"}, "y2": {"field": "hi"}, "color": {"field": "s", "type": "nominal", "title": null}}},
   {"transform": [{"filter": "isValid(datum.lo)"}], "mark": {"type": "tick", "orient": "horizontal", "size": 7, "thickness": 1.2, "opacity": 0.55}, "encoding": {"x": {"field": "t", "type": "quantitative"}, "y": {"field": "lo", "type": "quantitative"}, "color": {"field": "s", "type": "nominal", "title": null}}},
   {"transform": [{"filter": "isValid(datum.lo)"}], "mark": {"type": "tick", "orient": "horizontal", "size": 7, "thickness": 1.2, "opacity": 0.55}, "encoding": {"x": {"field": "t", "type": "quantitative"}, "y": {"field": "hi", "type": "quantitative"}, "color": {"field": "s", "type": "nominal", "title": null}}},
   {"mark": {"type": "point", "filled": true, "size": 40, "opacity": 1}, "encoding": {"x": {"field": "t", "type": "quantitative"}, "y": {"field": "v", "type": "quantitative"}, "color": {"field": "s", "type": "nominal", "title": null, "legend": {"labelExpr": "datum.label == 'C6/36' ? 'C6/36' : ['C6/36.', 'wAlbB']"}}, "shape": {"field": "s", "type": "nominal", "title": null, "scale": {"domain": ["C6/36", "C6/36.wAlbB"], "range": ["circle", "square"]}, "legend": {"labelExpr": "datum.label == 'C6/36' ? 'C6/36' : ['C6/36.', 'wAlbB']"}}}}
  ]}
 ]}
]
}
